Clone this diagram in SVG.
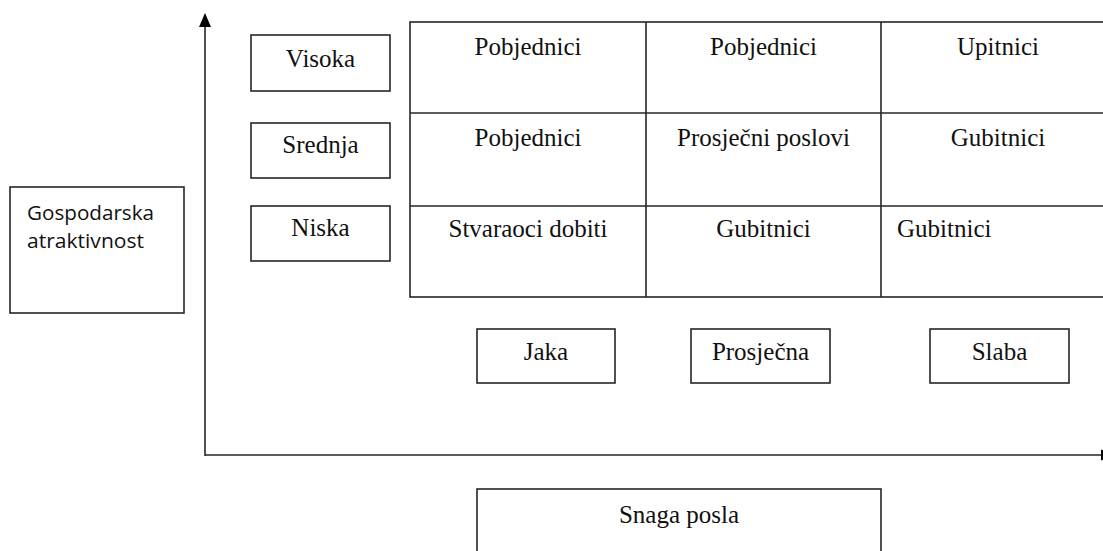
<svg xmlns="http://www.w3.org/2000/svg" width="1103" height="551" viewBox="0 0 1103 551">
  <style>
    .box { fill: #ffffff; stroke: #262626; stroke-width: 1.6; }
    .line { stroke: #262626; stroke-width: 1.6; fill: none; }
    .head { fill: #000000; stroke: none; }
    .serif { font-family: "Liberation Serif", "Times New Roman", serif; font-size: 25px; fill: #111111; }
    .sans { font-family: "Open Sans", "Liberation Sans", sans-serif; font-size: 20.5px; fill: #111111; }
    .mid { text-anchor: middle; }
  </style>
  <rect width="1103" height="551" fill="#ffffff"/>

  <g id="connectors">
    <line class="line" x1="205" y1="456" x2="205" y2="24"/>
    <polygon class="head" points="205,13 199,27 211,27"/>
    <line class="line" x1="205" y1="455" x2="1102" y2="455"/>
    <polygon class="head" points="1101,449.5 1101,460.5 1114,455"/>
  </g>

  <g id="node-gospodarska">
    <rect class="box" x="10" y="187" width="174" height="126"/>
    <text class="sans" x="27" y="220" textLength="127" lengthAdjust="spacingAndGlyphs">Gospodarska</text>
    <text class="sans" x="27" y="248" textLength="117" lengthAdjust="spacingAndGlyphs">atraktivnost</text>
  </g>

  <g id="node-visoka">
    <rect class="box" x="251" y="35" width="139" height="56"/>
    <text class="serif mid" x="320.5" y="67">Visoka</text>
  </g>
  <g id="node-srednja">
    <rect class="box" x="251" y="123" width="139" height="55"/>
    <text class="serif mid" x="320.5" y="153">Srednja</text>
  </g>
  <g id="node-niska">
    <rect class="box" x="251" y="206" width="139" height="55"/>
    <text class="serif mid" x="320.5" y="236">Niska</text>
  </g>

  <g id="node-matrix">
    <rect class="box" x="410" y="22" width="706" height="275"/>
    <line class="line" x1="646" y1="22" x2="646" y2="297"/>
    <line class="line" x1="881" y1="22" x2="881" y2="297"/>
    <line class="line" x1="410" y1="113" x2="1116" y2="113"/>
    <line class="line" x1="410" y1="206" x2="1116" y2="206"/>
    <text class="serif mid" x="528" y="55">Pobjednici</text>
    <text class="serif mid" x="763.5" y="55">Pobjednici</text>
    <text class="serif mid" x="998" y="55">Upitnici</text>
    <text class="serif mid" x="528" y="146">Pobjednici</text>
    <text class="serif mid" x="763.5" y="146">Prosječni poslovi</text>
    <text class="serif mid" x="998" y="146">Gubitnici</text>
    <text class="serif mid" x="528" y="237">Stvaraoci dobiti</text>
    <text class="serif mid" x="763.5" y="237">Gubitnici</text>
    <text class="serif" x="897" y="237">Gubitnici</text>
  </g>

  <g id="node-jaka">
    <rect class="box" x="477" y="329" width="138" height="54"/>
    <text class="serif mid" x="546" y="360">Jaka</text>
  </g>
  <g id="node-prosjecna">
    <rect class="box" x="691" y="329" width="139" height="54"/>
    <text class="serif mid" x="760.5" y="360">Prosječna</text>
  </g>
  <g id="node-slaba">
    <rect class="box" x="930" y="329" width="139" height="54"/>
    <text class="serif mid" x="999.5" y="360">Slaba</text>
  </g>

  <g id="node-snaga">
    <rect class="box" x="477" y="489" width="404" height="80"/>
    <text class="serif mid" x="679" y="523">Snaga posla</text>
  </g>
</svg>
